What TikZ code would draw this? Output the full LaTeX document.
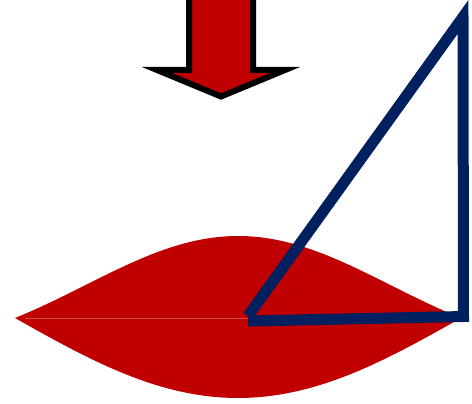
\documentclass[tikz,border=0pt]{standalone}
\definecolor{lensred}{HTML}{C00000}
\definecolor{navyblue}{HTML}{002060}
\begin{document}
\begin{tikzpicture}[x=1pt,y=-1pt,
  lens/.style={fill=lensred},
  seam/.style={draw=lensred!70!white,line width=0.8pt},
  downarrow/.style={draw=black,fill=lensred,line width=6pt,miter limit=10,line join=miter},
  tri/.style={draw=navyblue,line width=11pt,miter limit=10,line join=miter,line cap=butt}]
\useasboundingbox (0,0) rectangle (472,404);
% lens
\fill[lens] plot[domain=15:461,samples=90] (\x,{318-82*sin((\x-15)/446*180)*(0.7+0.3*sin((\x-15)/446*180))})
  -- plot[domain=461:15,samples=90] (\x,{318+80*sin((\x-15)/446*180)}) -- cycle;
\coordinate (seamL) at (25,318);
\coordinate (seamR) at (248,318);
\draw[seam] (seamL) -- (seamR);
% arrow
\draw[downarrow] (189,-10) -- (189,70) -- (157,70) -- (221,96.5) -- (285,70) -- (253,70) -- (253,-10) -- cycle;
% triangle
\coordinate (tA) at (248,316);
\coordinate (tB) at (463,17);
\coordinate (tC) at (463.5,316.5);
\coordinate (tD) at (248,321);
\draw[tri] (tA) -- (tB) -- (tC) -- (tD);
\end{tikzpicture}
\end{document}
